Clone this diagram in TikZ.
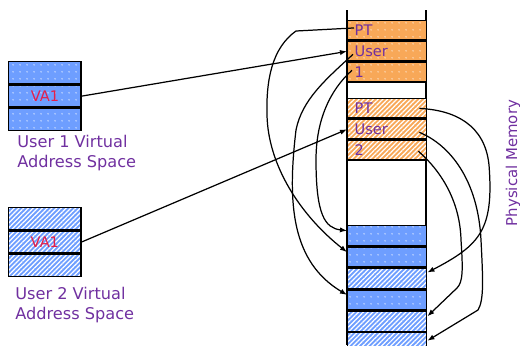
\documentclass[tikz,border=0pt]{standalone}
\usepackage{fontspec}
\setmainfont{DejaVu Sans}
\usepackage{xcolor}
\usetikzlibrary{arrows.meta, positioning, calc, patterns.meta}
\definecolor{morange}{HTML}{F8A858}
\definecolor{mblue}{HTML}{6E9EFF}
\definecolor{mpurple}{HTML}{7030A0}
\definecolor{mred}{HTML}{E51E4A}
\tikzset{
  vrow/.style={draw, line width=0.8pt, minimum width=1.45cm, minimum height=0.44cm,
               inner sep=0pt, font=\fontsize{8.3}{10}\selectfont, text=mred},
  mrow/.style={draw, line width=0.8pt, text width=1.30cm, inner xsep=0.14cm, inner ysep=0pt,
               minimum height=0.39cm, align=left, font=\fontsize{8.3}{10}\selectfont, text=mpurple},
  prow/.style={mrow, minimum height=0.4cm},
  dotorange/.style={preaction={fill=morange}, pattern={Dots[radius=0.6pt,distance=4pt]},
                    pattern color=white!45!morange},
  hatchorange/.style={preaction={fill=morange}, pattern={Lines[angle=45,distance=1.9pt,line width=0.7pt]},
                      pattern color=white},
  dotblue/.style={preaction={fill=mblue}, pattern={Dots[radius=0.6pt,distance=4pt]},
                  pattern color=white!50!mblue},
  hatchblue/.style={preaction={fill=mblue}, pattern={Lines[angle=45,distance=1.9pt,line width=0.7pt]},
                    pattern color=white},
  lbl/.style={text=mpurple, font=\fontsize{9.2}{11.3}\selectfont, align=left, inner sep=0pt},
  link/.style={-{Latex[length=4pt,width=3pt]}, line width=0.7pt},
}
\begin{document}
\begin{tikzpicture}[x=0.02cm, y=-0.02cm]
  \useasboundingbox (0,0) rectangle (520,345);

  %% User 1 virtual address space
  \node[vrow, dotblue, anchor=north west] (vtop1) at (8,61) {};
  \node[vrow, dotblue, below=0pt of vtop1] (va1a) {VA1};
  \node[vrow, dotblue, below=0pt of va1a] (vbot1) {};
  \node[lbl, anchor=north west] (lbl1) at (17,135) {User 1 Virtual\\Address Space};

  %% User 2 virtual address space
  \node[vrow, hatchblue, anchor=north west] (vtop2) at (8,207) {};
  \node[vrow, hatchblue, below=0pt of vtop2] (va1b) {VA1};
  \node[vrow, hatchblue, below=0pt of va1b] (vbot2) {};
  \node[lbl, anchor=north west] (lbl2) at (15,287) {User 2 Virtual\\Address Space};

  %% Physical memory column
  \draw[line width=0.8pt] (347,10) -- (347,345) (426,10) -- (426,345);
  % page table of user 1
  \node[mrow, dotorange, anchor=north west] (pt1) at (347,20) {PT};
  \node[mrow, dotorange, below=0pt of pt1] (usr1) {User};
  \node[mrow, dotorange, below=0pt of usr1] (one1) {1};
  % page table of user 2
  \node[mrow, hatchorange, anchor=north west] (pt2) at (347,98) {PT};
  \node[mrow, hatchorange, below=0pt of pt2] (usr2) {User};
  \node[mrow, hatchorange, below=0pt of usr2] (two2) {2};
  % page frames
  \node[prow, dotblue, anchor=north west] (pg1) at (347,225) {};
  \node[prow, dotblue, below=0pt of pg1] (pg2) {};
  \node[prow, hatchblue, below=0pt of pg2] (pg3) {};
  \node[prow, dotblue, below=0pt of pg3] (pg4) {};
  \node[prow, hatchblue, below=0pt of pg4] (pg5) {};
  \node[prow, hatchblue, below=0pt of pg5] (pg6) {};
  \node[lbl, rotate=90, font=\fontsize{8.5}{10}\selectfont] (physmem) at (513,163) {Physical Memory};

  %% Virtual address to page table
  \draw[link] (va1a.east) -- (usr1.west);
  \draw[link] (va1b.east) -- (usr2.west);

  %% Page table entries of user 1 (left side)
  \draw[link] ($(pt1.west)+(7,-2.5)$) -- (296,31)
    .. controls (272,48) and (266,80) .. (267,115)
    .. controls (268,165) and (300,215) .. ($(pg2.west)+(0,-5)$);
  \draw[link] ($(usr1.west)+(6,3)$)
    .. controls (325,80) and (302,100) .. (296,130)
    .. controls (287,205) and (292,262) .. ($(pg4.west)+(0,-5)$);
  \draw[link] ($(one1.west)+(5,-2)$)
    .. controls (330,90) and (316,120) .. (316,160)
    .. controls (316,215) and (325,228) .. ($(pg1.west)+(0,-5)$);

  %% Page table entries of user 2 (right side)
  \draw[link] ($(pt2.east)+(-8,0)$)
    .. controls (455,110) and (485,125) .. (489,165)
    .. controls (494,230) and (480,245) .. ($(pg3.east)+(0,-6)$);
  \draw[link] ($(usr2.east)+(-8,3)$)
    .. controls (450,145) and (478,180) .. (481,240)
    .. controls (483,280) and (484,300) .. (478,310) -- ($(pg6.east)+(0,-2)$);
  \draw[link] ($(two2.east)+(-9,1)$)
    .. controls (440,170) and (460,200) .. (461,240)
    .. controls (463,270) and (463,282) .. (457,288) -- ($(pg5.east)+(0,-5)$);

\end{tikzpicture}
\end{document}
